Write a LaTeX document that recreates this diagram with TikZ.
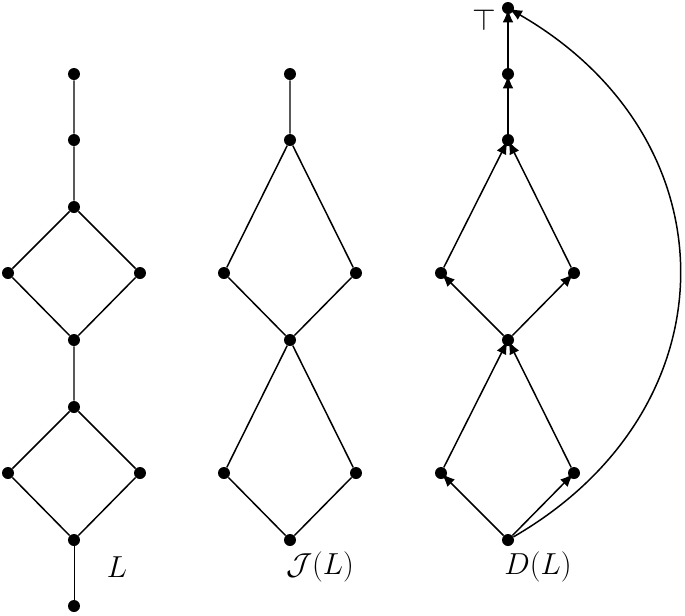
\documentclass[tikz,border=0pt]{standalone}
\usepackage{amsmath,amssymb}
\usetikzlibrary{arrows.meta,positioning}

\begin{document}
\begin{tikzpicture}[every node/.style={font=\LARGE},
  dot/.style={circle,fill,inner sep=0pt,minimum size=0.24cm},
  edge/.style={line width=.85pt},
  arr/.style={line width=.85pt,-{Latex[length=7.5pt,width=6pt]},shorten >=-3pt}]
\useasboundingbox (0,0) rectangle (13.7,-12.32);
% the lattice L
\node[dot] (a0) at (1.48,-1.48) {};
\node[dot] (a1) at (1.48,-2.80) {};
\node[dot] (a2) at (1.48,-4.14) {};
\node[dot] (a3) at (0.16,-5.46) {};
\node[dot] (a4) at (2.80,-5.46) {};
\node[dot] (a5) at (1.48,-6.80) {};
\node[dot] (a6) at (1.48,-8.14) {};
\node[dot] (a7) at (0.16,-9.46) {};
\node[dot] (a8) at (2.80,-9.46) {};
\node[dot] (a9) at (1.48,-10.80) {};
\node[dot] (a10) at (1.48,-12.12) {};
\draw[edge] (a0)--(a1)--(a2)--(a3)--(a5)--(a4)--(a2);
\draw[edge] (a5)--(a6)--(a7)--(a9)--(a8)--(a6);
\draw[line width=.25pt] (a9)--(a10);
\node (labL) at (2.34,-11.34) {$L$};
% the join-irreducibles J(L)
\node[dot] (b0) at (5.80,-1.48) {};
\node[dot] (b1) at (5.80,-2.80) {};
\node[dot] (b2) at (4.48,-5.46) {};
\node[dot] (b3) at (7.12,-5.46) {};
\node[dot] (b4) at (5.80,-6.80) {};
\node[dot] (b5) at (4.48,-9.46) {};
\node[dot] (b6) at (7.12,-9.46) {};
\node[dot] (b7) at (5.80,-10.80) {};
\draw[edge] (b0)--(b1)--(b2)--(b4)--(b3)--(b1);
\draw[edge] (b4)--(b5)--(b7)--(b6)--(b4);
\node (labJ) at (6.40,-11.34) {$\mathcal{J}(L)$};
% the directed graph D(L)
\node[dot] (c0) at (10.16,-0.16) {};
\node[dot] (c1) at (10.16,-1.48) {};
\node[dot] (c2) at (10.16,-2.80) {};
\node[dot] (c3) at (8.82,-5.46) {};
\node[dot] (c4) at (11.48,-5.46) {};
\node[dot] (c5) at (10.16,-6.80) {};
\node[dot] (c6) at (8.82,-9.46) {};
\node[dot] (c7) at (11.48,-9.46) {};
\node[dot] (c8) at (10.16,-10.80) {};
\draw[arr] (c8)--(c6);
\draw[arr] (c8)--(c7);
\draw[arr] (c6)--(c5);
\draw[arr] (c7)--(c5);
\draw[arr] (c5)--(c3);
\draw[arr] (c5)--(c4);
\draw[arr] (c3)--(c2);
\draw[arr] (c4)--(c2);
\draw[arr] (c2)--(c1);
\draw[arr] (c1)--(c0);
\draw[arr] (c8) to[out=30,in=-30,looseness=1.25] (c0);
\node (top) at (9.68,-0.40) {$\top$};
\node (labD) at (10.76,-11.34) {$D(L)$};
\end{tikzpicture}
\end{document}
